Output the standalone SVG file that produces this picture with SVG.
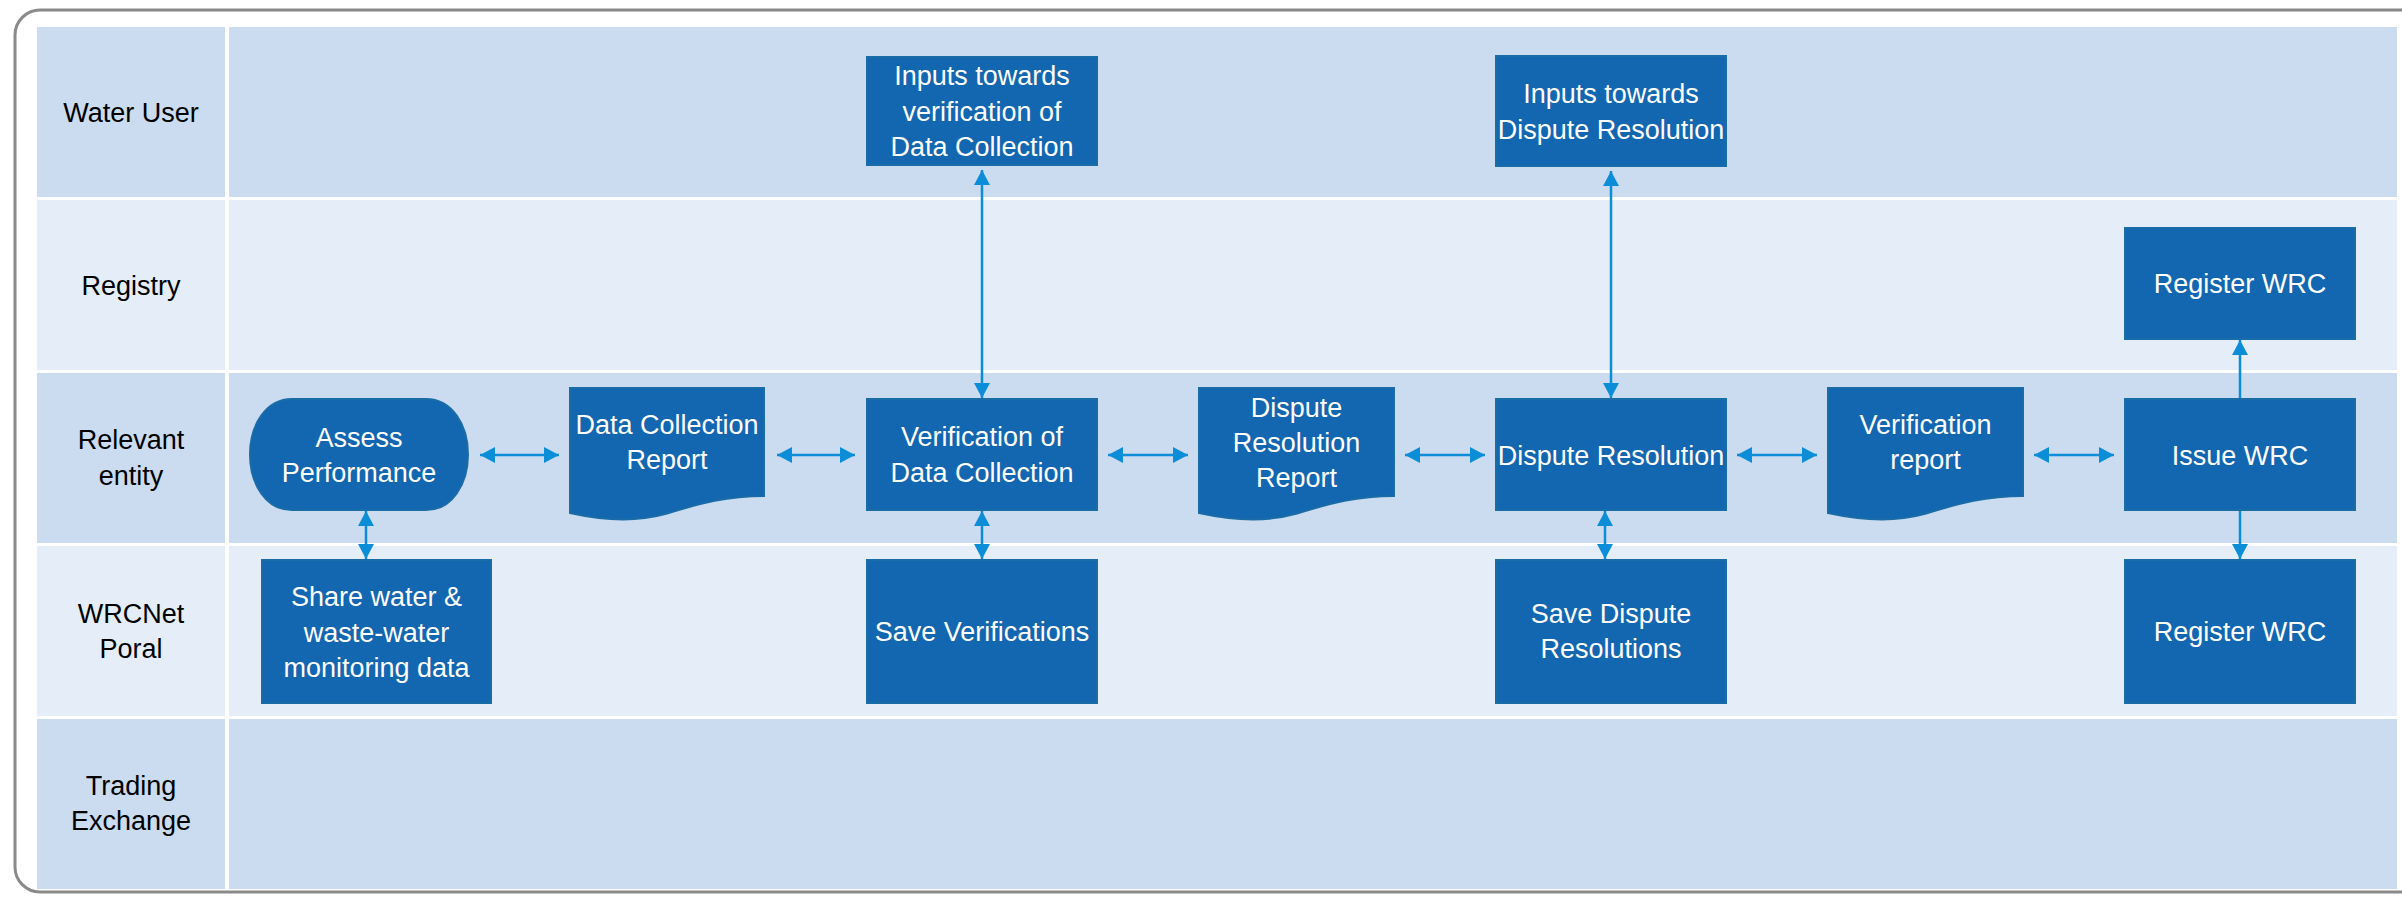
<svg xmlns="http://www.w3.org/2000/svg" width="2402" height="897" viewBox="0 0 2402 897">
<style>
  .lane-odd { fill: #CBDBF0; }
  .lane-even { fill: #E5EDF8; }
  .lbl { font-family: "Liberation Sans", Arial, sans-serif; font-size: 27px; fill: #000000; text-anchor: middle; }
  .node { fill: #1366B0; stroke: #1A6CA6; stroke-width: 2; }
  .ntxt { font-family: "Liberation Sans", Arial, sans-serif; font-size: 27px; fill: #FFFFFF; text-anchor: middle; }
  .conn { stroke: #0B8DD8; stroke-width: 2.5; fill: none; }
</style>
<defs>
  <marker id="ah" markerUnits="userSpaceOnUse" markerWidth="16" markerHeight="16" refX="15" refY="8" orient="auto-start-reverse">
    <path d="M0,0 L15,8 L0,16 Z" fill="#0B8DD8"/>
  </marker>
</defs>
<rect x="0" y="0" width="2402" height="897" fill="#FFFFFF"/>
<rect x="15" y="10" width="2410" height="882" rx="25" ry="25" fill="#FFFFFF" stroke="#8A8A8A" stroke-width="3"/>

<g id="lanes">
  <rect class="lane-odd" x="37" y="27" width="188" height="170"/>
  <rect class="lane-odd" x="229" y="27" width="2168" height="170"/>
  <rect class="lane-even" x="37" y="200" width="188" height="170"/>
  <rect class="lane-even" x="229" y="200" width="2168" height="170"/>
  <rect class="lane-odd" x="37" y="373" width="188" height="170"/>
  <rect class="lane-odd" x="229" y="373" width="2168" height="170"/>
  <rect class="lane-even" x="37" y="546" width="188" height="170"/>
  <rect class="lane-even" x="229" y="546" width="2168" height="170"/>
  <rect class="lane-odd" x="37" y="719" width="188" height="170"/>
  <rect class="lane-odd" x="229" y="719" width="2168" height="170"/>
  <text class="lbl" x="131" y="122">Water User</text>
  <text class="lbl" x="131" y="295">Registry</text>
  <text class="lbl" x="131" y="449">Relevant</text>
  <text class="lbl" x="131" y="485">entity</text>
  <text class="lbl" x="131" y="623">WRCNet</text>
  <text class="lbl" x="131" y="658">Poral</text>
  <text class="lbl" x="131" y="795">Trading</text>
  <text class="lbl" x="131" y="830">Exchange</text>
</g>

<g id="connectors">
  <line class="conn" x1="480" y1="455" x2="559" y2="455" marker-start="url(#ah)" marker-end="url(#ah)"/>
  <line class="conn" x1="777" y1="455" x2="855" y2="455" marker-start="url(#ah)" marker-end="url(#ah)"/>
  <line class="conn" x1="1108" y1="455" x2="1188" y2="455" marker-start="url(#ah)" marker-end="url(#ah)"/>
  <line class="conn" x1="1405" y1="455" x2="1485" y2="455" marker-start="url(#ah)" marker-end="url(#ah)"/>
  <line class="conn" x1="1737" y1="455" x2="1817" y2="455" marker-start="url(#ah)" marker-end="url(#ah)"/>
  <line class="conn" x1="2034" y1="455" x2="2114" y2="455" marker-start="url(#ah)" marker-end="url(#ah)"/>
  <line class="conn" x1="366" y1="511" x2="366" y2="559" marker-start="url(#ah)" marker-end="url(#ah)"/>
  <line class="conn" x1="982" y1="170" x2="982" y2="398" marker-start="url(#ah)" marker-end="url(#ah)"/>
  <line class="conn" x1="982" y1="511" x2="982" y2="559" marker-start="url(#ah)" marker-end="url(#ah)"/>
  <line class="conn" x1="1611" y1="171" x2="1611" y2="398" marker-start="url(#ah)" marker-end="url(#ah)"/>
  <line class="conn" x1="1605" y1="511" x2="1605" y2="559" marker-start="url(#ah)" marker-end="url(#ah)"/>
  <line class="conn" x1="2240" y1="399" x2="2240" y2="340" marker-end="url(#ah)"/>
  <line class="conn" x1="2240" y1="510" x2="2240" y2="559" marker-end="url(#ah)"/>
</g>

<g id="assess-performance">
  <path class="node" d="M292,399 H426 C452,399 468,425 468,454.5 C468,484 452,510 426,510 H292 C266,510 250,484 250,454.5 C250,425 266,399 292,399 Z"/>
  <text class="ntxt" x="359" y="447">Assess</text>
  <text class="ntxt" x="359" y="482">Performance</text>
</g>

<g id="share-data">
  <rect class="node" x="262" y="560" width="229" height="143"/>
  <text class="ntxt" x="376.5" y="606">Share water &amp;</text>
  <text class="ntxt" x="376.5" y="642">waste-water</text>
  <text class="ntxt" x="376.5" y="677">monitoring data</text>
</g>

<g id="data-collection-report">
  <path class="node" d="M570,388 H764 V496 C720,496 690,507 665,514 C640,521 610,522 570,513 Z"/>
  <text class="ntxt" x="667" y="434">Data Collection</text>
  <text class="ntxt" x="667" y="469">Report</text>
</g>

<g id="inputs-verification">
  <rect class="node" x="867" y="57" width="230" height="108"/>
  <text class="ntxt" x="982" y="85">Inputs towards</text>
  <text class="ntxt" x="982" y="121">verification of</text>
  <text class="ntxt" x="982" y="156">Data Collection</text>
</g>

<g id="verification">
  <rect class="node" x="867" y="399" width="230" height="111"/>
  <text class="ntxt" x="982" y="446">Verification of</text>
  <text class="ntxt" x="982" y="482">Data Collection</text>
</g>

<g id="save-verifications">
  <rect class="node" x="867" y="560" width="230" height="143"/>
  <text class="ntxt" x="982" y="641">Save Verifications</text>
</g>

<g id="dispute-resolution-report">
  <path class="node" d="M1199,388 H1394 V496 C1350,496 1320,507 1295,514 C1270,521 1240,522 1199,513 Z"/>
  <text class="ntxt" x="1296.5" y="417">Dispute</text>
  <text class="ntxt" x="1296.5" y="452">Resolution</text>
  <text class="ntxt" x="1296.5" y="487">Report</text>
</g>

<g id="inputs-dispute">
  <rect class="node" x="1496" y="56" width="230" height="110"/>
  <text class="ntxt" x="1611" y="103">Inputs towards</text>
  <text class="ntxt" x="1611" y="139">Dispute Resolution</text>
</g>

<g id="dispute-resolution">
  <rect class="node" x="1496" y="399" width="230" height="111"/>
  <text class="ntxt" x="1611" y="465">Dispute Resolution</text>
</g>

<g id="save-dispute">
  <rect class="node" x="1496" y="560" width="230" height="143"/>
  <text class="ntxt" x="1611" y="623">Save Dispute</text>
  <text class="ntxt" x="1611" y="658">Resolutions</text>
</g>

<g id="verification-report">
  <path class="node" d="M1828,388 H2023 V496 C1979,496 1949,507 1924,514 C1899,521 1869,522 1828,513 Z"/>
  <text class="ntxt" x="1925.5" y="434">Verification</text>
  <text class="ntxt" x="1925.5" y="469">report</text>
</g>

<g id="register-wrc-registry">
  <rect class="node" x="2125" y="228" width="230" height="111"/>
  <text class="ntxt" x="2240" y="293">Register WRC</text>
</g>

<g id="issue-wrc">
  <rect class="node" x="2125" y="399" width="230" height="111"/>
  <text class="ntxt" x="2240" y="465">Issue WRC</text>
</g>

<g id="register-wrc-portal">
  <rect class="node" x="2125" y="560" width="230" height="143"/>
  <text class="ntxt" x="2240" y="641">Register WRC</text>
</g>
</svg>
